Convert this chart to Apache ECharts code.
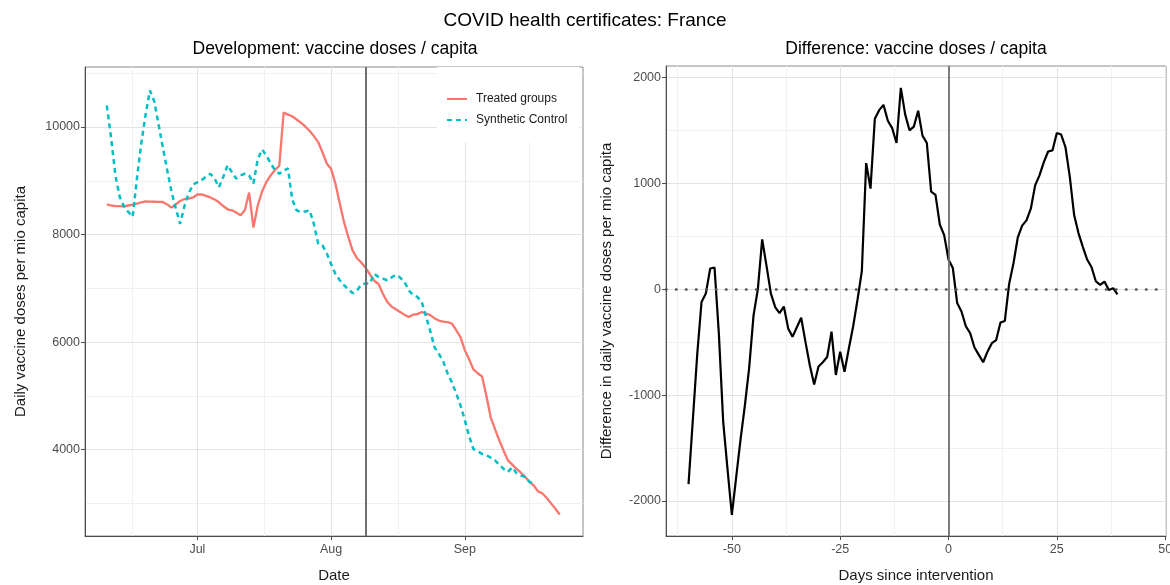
<!DOCTYPE html>
<html><head><meta charset="utf-8">
<script src="https://cdn.jsdelivr.net/npm/echarts@6/dist/echarts.min.js"></script>
<style>html,body{margin:0;padding:0;background:#fff}#c{width:1170px;height:585px}</style>
</head><body><div id="c"></div>
<script>
// ---------- data ----------
const mainTitle = 'COVID health certificates: France';
const leftTitle = 'Development: vaccine doses / capita';
const rightTitle = 'Difference: vaccine doses / capita';
const seriesNames = ['Treated groups', 'Synthetic Control'];

const referenceDate = '2021-07-01';      // day 0 of left x axis
const firstDate = '2021-06-10';          // first daily observation
const interventionDate = '2021-08-09';
const monthTickDates = ['2021-07-01', '2021-08-01', '2021-09-01'];
const monthTickLabels = ['Jul', 'Aug', 'Sep'];
const monthMinorDates = ['2021-06-16T00:00:00Z', '2021-07-16T12:00:00Z', '2021-08-16T12:00:00Z', '2021-09-16T00:00:00Z'];

// daily vaccine doses per mio capita, from 2021-06-10
const treated = [
  8560, 8540, 8530, 8530, 8525, 8540, 8555, 8575, 8600, 8615,
  8612, 8610, 8608, 8605, 8560, 8500, 8560, 8625, 8660, 8670,
  8690, 8745, 8748, 8720, 8690, 8650, 8600, 8530, 8470, 8450,
  8410, 8360, 8450, 8780, 8130, 8540, 8800, 8980, 9100, 9200,
  9280, 10270, 10230, 10200, 10140, 10080, 10010, 9930, 9830, 9720,
  9530, 9320, 9220, 8950, 8580, 8230, 7950, 7700, 7560, 7480,
  7380, 7260, 7140, 7080, 6900, 6750, 6660, 6610, 6560, 6510,
  6465, 6510, 6520, 6560, 6530, 6500, 6440, 6400, 6380, 6370,
  6345, 6220, 6090, 5850, 5680, 5490, 5420, 5360, 5000, 4600,
  4380, 4170, 3980, 3800, 3720, 3640, 3570, 3490, 3400, 3330,
  3220, 3185, 3100, 3000, 2900, 2790
];
const synthetic = [
  10400, 9800, 9100, 8700, 8520, 8420, 8330, 9050, 9700, 10230,
  10680, 10480, 10050, 9620, 9200, 8800, 8480, 8200, 8530, 8770,
  8930, 8970, 9010, 9080, 9130, 9040, 8880, 9070, 9290, 9160,
  9040, 9100, 9130, 9100, 8950, 9400, 9580, 9470, 9320, 9200,
  9130, 9190, 9230, 8650, 8450, 8420, 8430, 8450, 8200, 7830,
  7800, 7650, 7450, 7270, 7150, 7060, 6980, 6910, 6960, 7070,
  7090, 7090, 7270, 7210, 7180, 7150, 7200, 7250, 7200, 7120,
  6960, 6880, 6840, 6750, 6480, 6200, 5900, 5780, 5640, 5420,
  5250, 5050, 4820, 4550, 4250, 4010, 3970, 3920, 3895, 3850,
  3800, 3720, 3640, 3585, 3670, 3560, 3520, 3490, 3400, 3370
];

// difference (treated - synthetic), days since intervention
const firstRelDay = -60;
const difference = [
  -1840, -1230, -620, -120, -40, 195, 205, -420, -1250, -1700,
  -2130, -1775, -1420, -1100, -740, -250, 0, 470, 220, -40,
  -170, -226, -164, -370, -450, -360, -270, -500, -720, -900,
  -730, -690, -640, -400, -810, -590, -780, -560, -350, -100,
  170, 1190, 950, 1610, 1690, 1740, 1590, 1520, 1380, 1900,
  1650, 1500, 1535, 1685, 1450, 1380, 920, 890, 610, 510,
  280, 200, -130, -210, -350, -415, -550, -620, -690, -590,
  -510, -480, -315, -300, 50, 245, 490, 600, 650, 760,
  980, 1075, 1200, 1300, 1310, 1475, 1460, 1340, 1060, 700,
  530, 400, 280, 210, 75, 40, 72, -7, 9, -50
];

const leftYTicks = [4000, 6000, 8000, 10000];
const leftYMinor = [3000, 5000, 7000, 9000, 11000];
const rightXTicks = [-50, -25, 0, 25, 50];
const rightXMinor = [-62.5, -37.5, -12.5, 12.5, 37.5];
const rightYTicks = [-2000, -1000, 0, 1000, 2000];
const rightYMinor = [-1500, -500, 500, 1500];

// ---------- helpers ----------
const DAY = 86400000;
const ts = s => Date.parse(s.length === 10 ? s + 'T00:00:00Z' : s);
const dayOf = s => (ts(s) - ts(referenceDate)) / DAY;
const d0 = dayOf(firstDate);
const treatedData = treated.map((v, i) => [d0 + i, v]);
const syntheticData = synthetic.map((v, i) => [d0 + i, v]);
const diffData = difference.map((v, i) => [firstRelDay + i, v]);
const monthTicks = monthTickDates.map(dayOf);
const monthMinor = monthMinorDates.map(dayOf);
const monthLabelOf = v => { const k = monthTicks.findIndex(t => Math.abs(t - v) < 1e-6); return k >= 0 ? monthTickLabels[k] : ''; };

const FONT = '"Liberation Sans", Arial, Helvetica, sans-serif';
const RED = '#F8766D', CYAN = '#00BFC4';
const MAJOR = '#e3e3e3', MINOR = '#f1f1f1';
const tickLabel = { fontFamily: FONT, fontSize: 12.5, color: '#4d4d4d' };
const nameStyle = { fontFamily: FONT, fontSize: 15, color: '#1a1a1a' };

function mainAxis(type, gridIndex, min, max, ticks, opts) {
  return Object.assign({
    type: 'value', gridIndex, min, max,
    axisLine: { show: true, onZero: false, lineStyle: { color: '#4d4d4d', width: 1 } },
    axisTick: { show: true, length: 4, customValues: ticks, lineStyle: { color: '#4d4d4d' } },
    axisLabel: Object.assign({ customValues: ticks, formatter: v => String(v) }, tickLabel),
    splitLine: { show: true, lineStyle: { color: MAJOR, width: 1 } },
    nameLocation: 'middle', nameTextStyle: nameStyle
  }, opts || {});
}
function minorAxis(gridIndex, min, max, ticks) {
  return {
    type: 'value', gridIndex, min, max,
    axisLine: { show: false, onZero: false },
    axisTick: { show: false, customValues: ticks },
    axisLabel: { show: false, customValues: ticks },
    splitLine: { show: true, lineStyle: { color: MINOR, width: 1 } }
  };
}

const chart = echarts.init(document.getElementById('c'), null, { renderer: 'canvas' });
chart.setOption({
  backgroundColor: '#fff',
  animation: false,
  textStyle: { fontFamily: FONT },
  title: [
    { text: mainTitle, left: 585, top: 11, textAlign: 'center', padding: 0,
      textStyle: { fontFamily: FONT, fontSize: 19, fontWeight: 'normal', color: '#000' } },
    { text: leftTitle, left: 335, top: 40, textAlign: 'center', padding: 0,
      textStyle: { fontFamily: FONT, fontSize: 17.5, fontWeight: 'normal', color: '#000' } },
    { text: rightTitle, left: 916, top: 40, textAlign: 'center', padding: 0,
      textStyle: { fontFamily: FONT, fontSize: 17.5, fontWeight: 'normal', color: '#000' } }
  ],
  legend: {
    data: seriesNames, orient: 'vertical', left: 437, top: 67,
    padding: [26, 12, 16, 9], itemGap: 9, itemWidth: 20, itemHeight: 14,
    backgroundColor: '#fff', selectedMode: false,
    itemStyle: { opacity: 0, borderWidth: 0 },
    textStyle: { fontFamily: FONT, fontSize: 12, color: '#1a1a1a', padding: [0, 0, 0, 4] }
  },
  grid: [
    { left: 85, top: 67, width: 498, height: 469, show: true, borderColor: '#8a8a8a', borderWidth: 1, backgroundColor: '#fff', outerBoundsMode: 'none', containLabel: false },
    { left: 666, top: 66, width: 500, height: 470, show: true, borderColor: '#8a8a8a', borderWidth: 1, backgroundColor: '#fff', outerBoundsMode: 'none', containLabel: false }
  ],
  xAxis: [
    mainAxis('x', 0, -26.05, 89.4, monthTicks, {
      name: 'Date', nameGap: 32,
      axisLabel: Object.assign({ customValues: monthTicks, formatter: monthLabelOf, margin: 7 }, tickLabel)
    }),
    minorAxis(0, -26.05, 89.4, monthMinor),
    mainAxis('x', 1, -65.2, 50.2, rightXTicks, {
      name: 'Days since intervention', nameGap: 32,
      axisLabel: Object.assign({ customValues: rightXTicks, formatter: v => String(v), margin: 7 }, tickLabel)
    }),
    minorAxis(1, -65.2, 50.2, rightXMinor)
  ],
  yAxis: [
    mainAxis('y', 0, 2393, 11116, leftYTicks, {
      name: 'Daily vaccine doses per mio capita', nameGap: 57,
      axisLabel: Object.assign({ customValues: leftYTicks, formatter: v => String(v), margin: 5 }, tickLabel)
    }),
    minorAxis(0, 2393, 11116, leftYMinor),
    mainAxis('y', 1, -2330, 2107, rightYTicks, {
      name: 'Difference in daily vaccine doses per mio capita', nameGap: 52,
      axisLabel: Object.assign({ customValues: rightYTicks, formatter: v => String(v), margin: 5 }, tickLabel)
    }),
    minorAxis(1, -2330, 2107, rightYMinor)
  ],
  series: [
    {
      name: seriesNames[0], type: 'line', xAxisIndex: 0, yAxisIndex: 0,
      data: treatedData, showSymbol: false, symbol: 'none',
      lineStyle: { color: RED, width: 2.3 }, itemStyle: { color: RED },
      markLine: {
        silent: true, symbol: 'none', label: { show: false },
        lineStyle: { color: '#707070', width: 2, type: 'solid' },
        data: [{ xAxis: dayOf(interventionDate) }]
      },
      z: 3
    },
    {
      name: seriesNames[1], type: 'line', xAxisIndex: 0, yAxisIndex: 0,
      data: syntheticData, showSymbol: false, symbol: 'none',
      lineStyle: { color: CYAN, width: 2.5, type: [5, 4] }, itemStyle: { color: CYAN },
      z: 3
    },
    {
      name: 'Difference', type: 'line', xAxisIndex: 2, yAxisIndex: 2,
      data: diffData, showSymbol: false, symbol: 'none',
      lineStyle: { color: '#000', width: 2.2 }, itemStyle: { color: '#000' },
      markLine: {
        silent: true, symbol: 'none', label: { show: false },
        data: [
          { xAxis: 0, lineStyle: { color: '#707070', width: 1.8, type: 'solid' } },
          { yAxis: 0, lineStyle: { color: '#555', width: 2.5, type: [0.5, 9.5], cap: 'round' } }
        ]
      },
      z: 3
    }
  ]
});
</script>
</body></html>
